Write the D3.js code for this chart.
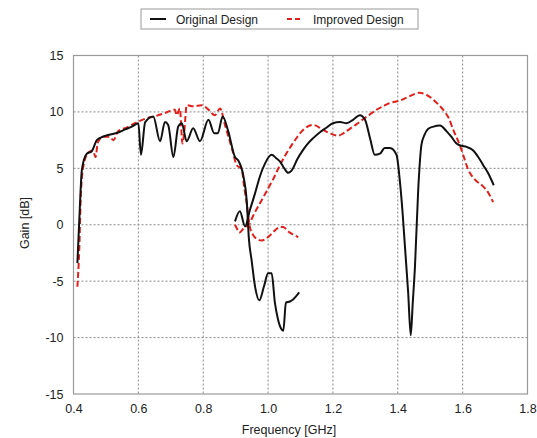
<!DOCTYPE html>
<html lang="en">
<meta charset="utf-8">
<title>Gain vs Frequency</title>
<style>
    body { margin: 0; background: #fff; }
    svg text { font-family: "Liberation Sans", Arial, sans-serif; fill: #222; }
</style>
<body>
<svg id="canvas"></svg>
<script src="https://cdn.jsdelivr.net/npm/d3@7"></script>
<script>

    /////////////////////// Data //////////////////////
    // Original design, first sweep
    var origFreqA = [0.412, 0.418, 0.426, 0.441, 0.456, 0.472, 0.49, 0.513, 0.54, 0.559, 0.58, 0.6, 0.608, 0.621,
                     0.646, 0.667, 0.682, 0.692, 0.708, 0.723, 0.734, 0.749, 0.769, 0.79, 0.816, 0.834,
                     0.845, 0.86, 0.877, 0.898, 0.908, 0.924, 0.934, 0.941, 0.949, 0.96, 0.973, 0.987,
                     1.0, 1.011, 1.021, 1.03, 1.04, 1.047, 1.055, 1.067, 1.078, 1.096];
    var origGainA = [-3.4, 0.5, 4.9, 6.3, 6.5, 7.5, 7.8, 8.0, 8.2, 8.45, 8.7, 9.0, 6.2, 9.1,
                     9.6, 7.4, 9.1, 8.85, 6.0, 8.7, 9.0, 7.4, 8.55, 7.4, 9.3, 8.1,
                     8.1, 9.6, 8.3, 6.0, 5.7, 4.3, 2.2, -1.3, -3.1, -5.5, -6.7, -5.5,
                     -4.3, -4.3, -6.9, -8.3, -9.2, -9.4, -6.9, -6.8, -6.6, -6.0];
    // Original design, second sweep
    var origFreqB = [0.898, 0.913, 0.929, 0.944, 0.96, 0.975, 0.99, 1.011, 1.025, 1.037, 1.05, 1.062, 1.075,
                     1.09, 1.105, 1.12, 1.14, 1.16, 1.18, 1.2, 1.222, 1.242, 1.262, 1.283, 1.299,
                     1.315, 1.329, 1.345, 1.36, 1.376, 1.396, 1.406, 1.415, 1.422, 1.432, 1.44,
                     1.446, 1.453, 1.463, 1.473, 1.483, 1.494, 1.51, 1.53, 1.55, 1.565, 1.581,
                     1.597, 1.612, 1.632, 1.648, 1.663, 1.68, 1.696];
    var origGainB = [0.3, 1.2, -0.15, 1.3, 2.8, 4.3, 5.4, 6.2, 5.9, 5.6, 5.0, 4.6, 4.9,
                     5.8, 6.5, 7.1, 7.7, 8.2, 8.6, 9.0, 9.1, 9.0, 9.3, 9.7, 9.3,
                     7.6, 6.2, 6.3, 6.8, 6.8, 6.2, 4.0, 1.0, -1.9, -6.0, -9.8,
                     -7.0, -3.7, 3.1, 7.1, 8.0, 8.5, 8.7, 8.8, 8.3, 7.8, 7.2,
                     7.0, 6.9, 6.6, 6.0, 5.3, 4.5, 3.5];
    // Improved design, first sweep
    var impFreqA = [0.412, 0.418, 0.4225, 0.4305, 0.446, 0.46, 0.468, 0.475, 0.492, 0.51, 0.523, 0.538,
                    0.559, 0.59, 0.621, 0.65, 0.682, 0.713, 0.718, 0.728, 0.736, 0.742, 0.749, 0.77,
                    0.795, 0.816, 0.836, 0.852, 0.867, 0.888, 0.903, 0.919, 0.926, 0.934, 0.944,
                    0.954, 0.968, 0.98, 0.995, 1.011, 1.025, 1.037, 1.047, 1.062, 1.08, 1.093];
    var impGainA = [-5.5, -2.0, 2.5, 5.2, 6.4, 6.6, 6.0, 7.3, 7.8, 7.8, 7.5, 8.3,
                    8.55, 9.0, 9.4, 9.6, 9.9, 10.2, 9.7, 10.3, 7.2, 8.4, 10.6, 10.5,
                    10.6, 10.2, 9.7, 10.3, 8.85, 6.8, 5.3, 4.9, 3.4, 1.9, -0.2,
                    -0.9, -1.3, -1.4, -1.2, -0.8, -0.4, -0.2, -0.2, -0.6, -0.9, -1.1];
    // Improved design, second sweep
    var impFreqB = [0.898, 0.905, 0.911, 0.925, 0.944, 0.954, 0.975, 0.996, 1.015, 1.037, 1.052, 1.067,
                    1.083, 1.108, 1.139, 1.17, 1.191, 1.216, 1.232, 1.252, 1.272, 1.293, 1.315,
                    1.335, 1.355, 1.376, 1.406, 1.437, 1.466, 1.489, 1.505, 1.52, 1.545, 1.558,
                    1.571, 1.585, 1.597, 1.617, 1.638, 1.663, 1.68, 1.694];
    var impGainB = [0.0, -0.4, -0.7, -0.3, 0.15, 0.8, 1.9, 3.0, 4.0, 5.3, 6.1, 6.8,
                    7.5, 8.4, 8.85, 8.4, 8.1, 7.9, 8.1, 8.5, 8.9, 9.35, 9.8,
                    10.2, 10.5, 10.8, 11.0, 11.4, 11.7, 11.5, 11.2, 10.8, 10.0, 9.4,
                    8.4, 7.5, 6.6, 4.9, 4.0, 3.4, 2.8, 2.0];

    var xTicks = [0.4, 0.6, 0.8, 1.0, 1.2, 1.4, 1.6, 1.8];
    var yTicks = [-15, -10, -5, 0, 5, 10, 15];
    var seriesNames = ["Original Design", "Improved Design"];
    ///////////////////////////////////////////////////

    //////////////////// Layout ///////////////////////
    var width  = 537, height = 438;
    var plotL  = 73.5, plotR = 527.5, plotT = 55.5, plotB = 394;
    var grid_color = '#888';
    var orig_color = '#111';
    var imp_color  = '#e0201c';
    ///////////////////////////////////////////////////

    var svg = d3.select("#canvas")
        .attr('width', width)
        .attr('height', height);

    var x = d3.scaleLinear().domain([0.4, 1.8]).range([plotL, plotR]);
    var y = d3.scaleLinear().domain([-15, 15]).range([plotB, plotT]);

    // grid
    svg.append('g').selectAll('line')
        .data(xTicks.slice(1, -1)).join('line')
        .attr('x1', d => x(d)).attr('x2', d => x(d))
        .attr('y1', plotT).attr('y2', plotB)
        .attr('stroke', grid_color).attr('stroke-width', 1)
        .attr('stroke-dasharray', '2,2');
    svg.append('g').selectAll('line')
        .data(yTicks.slice(1, -1)).join('line')
        .attr('x1', plotL).attr('x2', plotR)
        .attr('y1', d => y(d)).attr('y2', d => y(d))
        .attr('stroke', grid_color).attr('stroke-width', 1)
        .attr('stroke-dasharray', '2,2');

    // axes (labels only, frame drawn separately)
    var xAxis = svg.append('g')
        .attr('transform', 'translate(0,' + plotB + ')')
        .call(d3.axisBottom(x).tickValues(xTicks).tickSize(0).tickPadding(10)
              .tickFormat(d => d.toFixed(1)));
    var yAxis = svg.append('g')
        .attr('transform', 'translate(' + plotL + ',0)')
        .call(d3.axisLeft(y).tickValues(yTicks).tickSize(0).tickPadding(10)
              .tickFormat(d => String(d)));
    [xAxis, yAxis].forEach(function (a) {
        a.select('.domain').remove();
        a.selectAll('text')
            .attr('font-size', 12.5)
            .attr('font-family', '"Liberation Sans", Arial, sans-serif')
            .attr('fill', '#222');
    });

    svg.append('rect')
        .attr('x', plotL).attr('y', plotT)
        .attr('width', plotR - plotL).attr('height', plotB - plotT)
        .attr('fill', 'none').attr('stroke', '#999').attr('stroke-width', 1.2);

    // series
    var line = d3.line()
        .x(d => x(d[0]))
        .y(d => y(d[1]))
        .curve(d3.curveMonotoneX);

    function pairs(fs, gs) { return fs.map((f, i) => [f, gs[i]]); }

    var series = [
        { pts: pairs(impFreqA,  impGainA),  color: imp_color,  dash: '6,3' },
        { pts: pairs(impFreqB,  impGainB),  color: imp_color,  dash: '6,3' },
        { pts: pairs(origFreqA, origGainA), color: orig_color, dash: null },
        { pts: pairs(origFreqB, origGainB), color: orig_color, dash: null }
    ];
    svg.append('g').selectAll('path')
        .data(series).join('path')
        .attr('d', d => line(d.pts))
        .attr('fill', 'none')
        .attr('stroke', d => d.color)
        .attr('stroke-width', 2)
        .attr('stroke-linejoin', 'round')
        .attr('stroke-dasharray', d => d.dash);

    // axis titles
    svg.append('text')
        .attr('x', 289).attr('y', 434)
        .attr('text-anchor', 'middle')
        .attr('font-size', 12.5)
        .text('Frequency [GHz]');
    svg.append('text')
        .attr('transform', 'translate(29,223) rotate(-90)')
        .attr('text-anchor', 'middle')
        .attr('font-size', 12.5)
        .text('Gain [dB]');

    // legend
    var legend = svg.append('g');
    legend.append('rect')
        .attr('x', 141).attr('y', 9).attr('width', 277).attr('height', 20)
        .attr('fill', '#fff').attr('stroke', '#999').attr('stroke-width', 1);
    var legX = [150, 287];
    var legColors = [orig_color, imp_color];
    var legDash = [null, '5,3'];
    seriesNames.forEach(function (name, i) {
        legend.append('line')
            .attr('x1', legX[i]).attr('x2', legX[i] + 16)
            .attr('y1', 19).attr('y2', 19)
            .attr('stroke', legColors[i]).attr('stroke-width', 2)
            .attr('stroke-dasharray', legDash[i]);
        legend.append('text')
            .attr('x', legX[i] + 26).attr('y', 23.5)
            .attr('font-size', 12)
            .text(name);
    });

</script>
</body>
</html>
